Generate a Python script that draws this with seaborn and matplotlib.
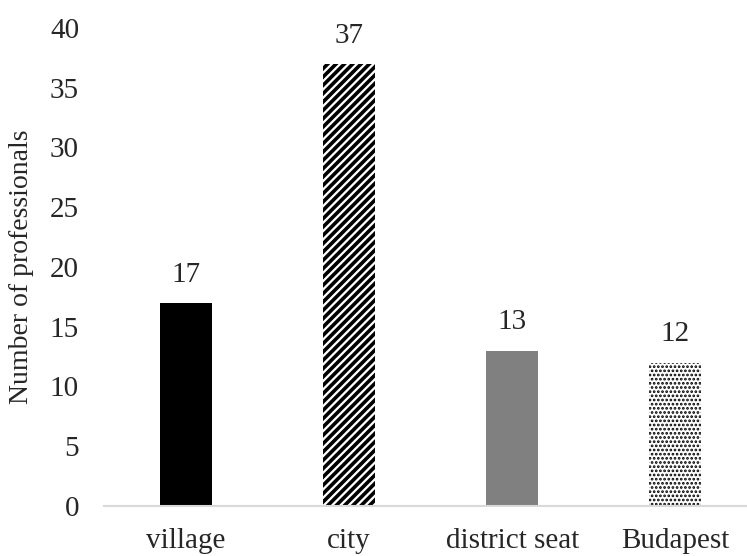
import matplotlib
matplotlib.use("Agg")
import matplotlib.pyplot as plt
import seaborn as sns
import pandas as pd

places = ["village", "city", "district seat", "Budapest"]
counts = [17, 37, 13, 12]
fills = ["black", "white", "#808080", "white"]
hatches = ["", "////", "", "...."]

sns.set_style("white")
plt.rcParams['font.family'] = ['Liberation Serif', 'DejaVu Serif']
plt.rcParams['hatch.linewidth'] = 2.6

df = pd.DataFrame({"place": places, "count": counts})

fig = plt.figure(figsize=(7.47, 5.56), dpi=100)
ax = fig.add_axes([104 / 747, 50 / 556, 653 / 747, 478 / 556])

sns.barplot(data=df, x="place", y="count", hue="place", palette=fills,
            width=0.32, legend=False, ax=ax, edgecolor="black", linewidth=0)

for bar, h in zip(ax.patches, hatches):
    bar.set_hatch(h)
    if h.startswith(".") and hasattr(bar, "set_hatch_linewidth"):
        bar.set_hatch_linewidth(1.3)

for c in ax.containers:
    ax.bar_label(c, padding=11, fontsize=21)

ax.set_ylim(0, 40)
ax.set_xlim(-0.5, 3.5)
ax.set_yticks(range(0, 41, 5))
ax.tick_params(axis="both", length=0, labelsize=21)
ax.tick_params(axis="y", pad=18)
ax.tick_params(axis="x", pad=16)
ax.set_xlabel("")
ax.set_ylabel("Number of professionals", fontsize=20, labelpad=11)
for s in ["top", "right", "left"]:
    ax.spines[s].set_visible(False)
ax.spines["bottom"].set_color("#d9d9d9")
ax.spines["bottom"].set_linewidth(1.5)

fig.savefig("out.png", dpi=100)
